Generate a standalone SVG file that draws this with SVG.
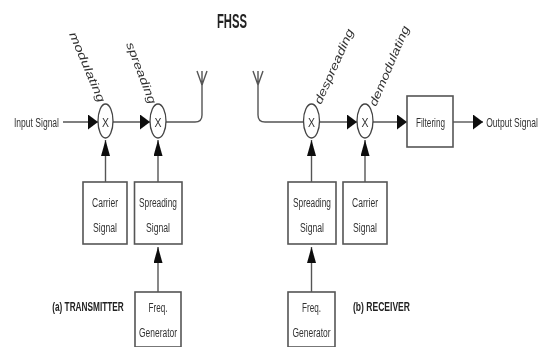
<svg xmlns="http://www.w3.org/2000/svg" width="541" height="349" viewBox="0 0 541 349">
<style>
text{font-family:"Liberation Sans",Arial,sans-serif;fill:#333;font-size:12px;text-anchor:middle}
.b{fill:#222;font-weight:bold}
.r{font-style:italic;text-anchor:start;font-size:11.500px}
.box{fill:#fff;stroke:#555;stroke-width:1.6}
.mix{fill:#fff;stroke:#444;stroke-width:1.3}
.l{fill:none;stroke:#555;stroke-width:1.4}
</style>
<defs>
<marker id="h" markerUnits="userSpaceOnUse" markerWidth="11" markerHeight="16" refX="10" refY="7.500" orient="auto"><path d="M0 0L10 7.500L0 15Z" fill="#111"/></marker>
<marker id="v" markerUnits="userSpaceOnUse" markerWidth="17" markerHeight="10" refX="16" refY="4.500" orient="auto"><path d="M0 0L16 4.500L0 9Z" fill="#111"/></marker>
<filter id="s" x="0" y="0" width="1" height="1"><feGaussianBlur stdDeviation="0.5"/></filter>
</defs>
<g filter="url(#s)">
<g id="connectors">
<path class="l" d="M63 122H98" marker-end="url(#h)"/>
<path class="l" d="M113 122H150" marker-end="url(#h)"/>
<path class="l" d="M166 122H195Q202 122 202 115V84"/>
<path class="l" d="M202 85L197 71M202 85V71M202 85L207 71"/>
<path class="l" d="M258 85L253 71M258 85V71M258 85L263 71"/>
<path class="l" d="M258 85V115Q258 122 265 122H304"/>
<path class="l" d="M320 122H357" marker-end="url(#h)"/>
<path class="l" d="M373 122H407" marker-end="url(#h)"/>
<path class="l" d="M453 122H483" marker-end="url(#h)"/>
<path class="l" d="M105.500 182V140" marker-end="url(#v)"/>
<path class="l" d="M158 182V140" marker-end="url(#v)"/>
<path class="l" d="M158 292V247" marker-end="url(#v)"/>
<path class="l" d="M311.500 182V140" marker-end="url(#v)"/>
<path class="l" d="M365 182V140" marker-end="url(#v)"/>
<path class="l" d="M311.500 292V247" marker-end="url(#v)"/>
</g>
<text class="b" x="232" y="28" textLength="30" lengthAdjust="spacingAndGlyphs" style="font-size:21px">FHSS</text>
<g id="input"><text x="36.500" y="127" textLength="45" lengthAdjust="spacingAndGlyphs">Input Signal</text></g>
<g id="mix1"><ellipse class="mix" cx="105.500" cy="121" rx="7.500" ry="17"/><text x="105.500" y="127" textLength="7" lengthAdjust="spacingAndGlyphs">X</text></g>
<g id="mix2"><ellipse class="mix" cx="158" cy="121" rx="8" ry="17"/><text x="158" y="127" textLength="7" lengthAdjust="spacingAndGlyphs">X</text></g>
<g id="mix3"><ellipse class="mix" cx="311.500" cy="121" rx="8" ry="17"/><text x="311.500" y="127" textLength="7" lengthAdjust="spacingAndGlyphs">X</text></g>
<g id="mix4"><ellipse class="mix" cx="365" cy="121" rx="8" ry="17"/><text x="365" y="127" textLength="7" lengthAdjust="spacingAndGlyphs">X</text></g>
<text class="r" transform="translate(69 34) rotate(67)" textLength="75" lengthAdjust="spacingAndGlyphs">modulating</text>
<text class="r" transform="translate(126 44) rotate(69)" textLength="65" lengthAdjust="spacingAndGlyphs">spreading</text>
<text class="r" transform="translate(321 105) rotate(-66)" textLength="81" lengthAdjust="spacingAndGlyphs">despreading</text>
<text class="r" transform="translate(376 107) rotate(-67)" textLength="86" lengthAdjust="spacingAndGlyphs">demodulating</text>
<g id="carrier-tx"><rect class="box" x="83" y="182" width="44" height="62"/><text x="105" y="207" textLength="26" lengthAdjust="spacingAndGlyphs">Carrier</text><text x="105" y="232" textLength="24" lengthAdjust="spacingAndGlyphs">Signal</text></g>
<g id="spread-tx"><rect class="box" x="134.500" y="182" width="47.500" height="62"/><text x="158" y="207" textLength="38" lengthAdjust="spacingAndGlyphs">Spreading</text><text x="158" y="232" textLength="24" lengthAdjust="spacingAndGlyphs">Signal</text></g>
<g id="freq-tx"><rect class="box" x="135" y="292" width="46" height="55"/><text x="158" y="312" textLength="19" lengthAdjust="spacingAndGlyphs">Freq.</text><text x="158" y="337" textLength="38" lengthAdjust="spacingAndGlyphs">Generator</text></g>
<g id="spread-rx"><rect class="box" x="288" y="182" width="48" height="62"/><text x="312" y="207" textLength="38" lengthAdjust="spacingAndGlyphs">Spreading</text><text x="312" y="232" textLength="24" lengthAdjust="spacingAndGlyphs">Signal</text></g>
<g id="carrier-rx"><rect class="box" x="343" y="182" width="44" height="62"/><text x="365" y="207" textLength="26" lengthAdjust="spacingAndGlyphs">Carrier</text><text x="365" y="232" textLength="24" lengthAdjust="spacingAndGlyphs">Signal</text></g>
<g id="freq-rx"><rect class="box" x="288" y="292" width="47" height="55"/><text x="311.500" y="312" textLength="19" lengthAdjust="spacingAndGlyphs">Freq.</text><text x="311.500" y="337" textLength="38" lengthAdjust="spacingAndGlyphs">Generator</text></g>
<g id="filter"><rect class="box" x="407" y="96" width="46" height="51"/><text x="430.500" y="127" textLength="29" lengthAdjust="spacingAndGlyphs">Filtering</text></g>
<g id="output"><text transform="translate(512 127) scale(0.71 1)">Output Signal</text></g>
<text class="b" transform="translate(88 311) scale(0.69 1)">(a) TRANSMITTER</text>
<text class="b" x="381.500" y="311" textLength="57" lengthAdjust="spacingAndGlyphs">(b) RECEIVER</text>
</g>
</svg>
